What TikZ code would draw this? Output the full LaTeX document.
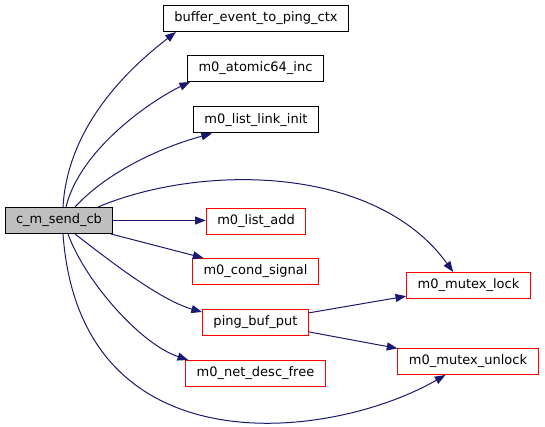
\documentclass[tikz,border=0pt]{standalone}
\usepackage{fontspec}
\setmainfont{DejaVu Sans}
\usetikzlibrary{arrows.meta}
\definecolor{edgeblue}{HTML}{191970}
\definecolor{rootgray}{HTML}{BFBFBF}
\definecolor{missred}{HTML}{FF0000}

\begin{document}
\begin{tikzpicture}[x=0.75pt, y=-0.75pt, >={Triangle[length=8pt, width=6pt]},
      func/.style={draw, line width=0.75pt, minimum height=19.5pt, inner xsep=8.25pt, inner ysep=0pt,
        font=\fontsize{9.75}{12}\selectfont},
      leaf/.style={func, draw=missred},
      root/.style={func, fill=rootgray},
      call/.style={->, draw=edgeblue, line width=0.75pt}]
    \useasboundingbox (0,0) rectangle (545,427);
    \node[root] (send) at (59,220.5) {c\_m\_send\_cb};
    \node[func] (bufev) at (256,18.5) {buffer\_event\_to\_ping\_ctx};
    \node[func] (atomic) at (255.5,68.5) {m0\_atomic64\_inc};
    \node[func] (linkinit) at (256,120) {m0\_list\_link\_init};
    \node[leaf] (listadd) at (256,221.5) {m0\_list\_add};
    \node[leaf] (condsig) at (255.5,271.5) {m0\_cond\_signal};
    \node[leaf] (bufput) at (255.5,322) {ping\_buf\_put};
    \node[leaf] (descfree) at (255.5,373.5) {m0\_net\_desc\_free};
    \node[leaf] (lock) at (468.5,285.5) {m0\_mutex\_lock};
    \node[leaf] (unlock) at (468,361.5) {m0\_mutex\_unlock};
    % calls made by c_m_send_cb
    \draw[call] ([shift={(4,0)}]send.north) .. controls +(5,-88) and +(-36,28) .. ([shift={(13,0)}]bufev.south west);
    \draw[call] ([shift={(7,0)}]send.north) .. controls +(14,-58) and +(-38,18) .. ([shift={(3,0)}]atomic.south west);
    \draw[call] ([shift={(16,0)}]send.north) .. controls +(35,-38) and +(-45,12) .. ([shift={(19,0)}]linkinit.south west);
    \draw[call] ([shift={(39,0)}]send.north) .. controls +(102,-43) and +(-78,-108) .. ([shift={(47,0)}]lock.north west);
    \draw[call] (send.east) -- (send.east -| listadd.west);
    \draw[call] (send) -- (condsig);
    \draw[call] ([shift={(16,0)}]send.south) .. controls +(35,27) and +(-42,-12) .. ([shift={(0,-10)}]bufput.west);
    \draw[call] ([shift={(9,0)}]send.south) .. controls +(17,47) and +(-48,-16) .. ([shift={(3,0)}]descfree.north west);
    \draw[call] ([shift={(4,0)}]send.south) .. controls +(17,237) and +(-115,66) .. ([shift={(48,0)}]unlock.south west);
    % calls made by ping_buf_put
    \draw[call] (bufput) -- (lock);
    \draw[call] (bufput) -- (unlock);
  \end{tikzpicture}
\end{document}
